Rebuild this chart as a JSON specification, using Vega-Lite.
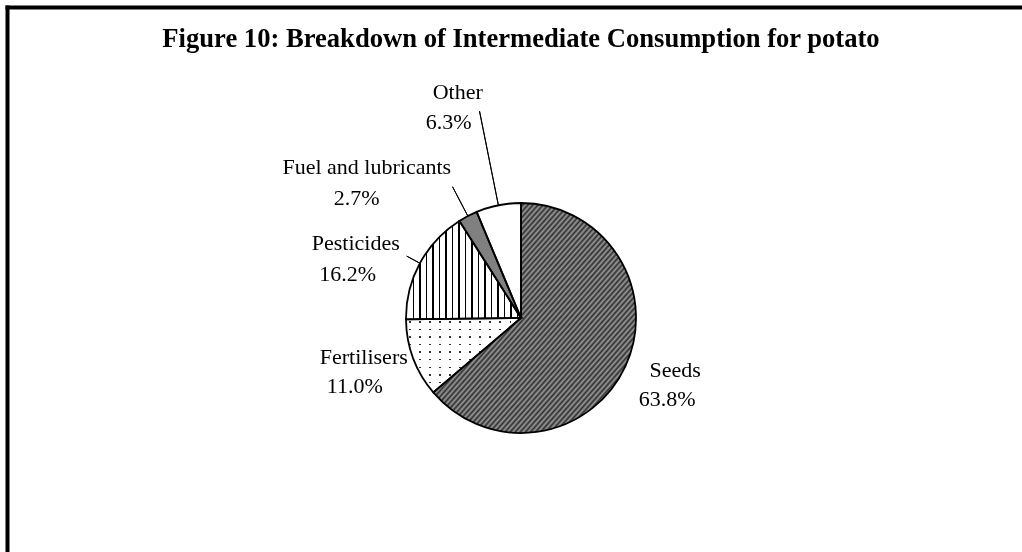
{
"$schema": "https://vega.github.io/schema/vega-lite/v6.json",
"width": 1028, "height": 622,
"autosize": {"type": "none"},
"padding": {"left": 7, "top": 7, "right": -13, "bottom": -77},
"background": "#ffffff",
"config": {"view": {"stroke": null}},
"title": {"text": "Figure 10: Breakdown of Intermediate Consumption for potato", "font": "Liberation Serif", "fontSize": 26.6, "fontWeight": "bold", "color": "#000000", "anchor": "middle", "frame": "group", "orient": "top", "offset": -69, "baseline": "alphabetic"},
"data": {"values": [
 {"category": "Seeds", "share": 0.638, "rank": 1},
 {"category": "Fertilisers", "share": 0.110, "rank": 2},
 {"category": "Pesticides", "share": 0.162, "rank": 3},
 {"category": "Fuel and lubricants", "share": 0.027, "rank": 4},
 {"category": "Other", "share": 0.063, "rank": 5}
]},
"layer": [
 {"mark": {"type": "point", "opacity": 0},
  "encoding": {
   "x": {"field": "share", "type": "quantitative", "axis": {"orient": "top", "domain": true, "domainColor": "#000000", "domainWidth": 4, "domainCap": "square", "ticks": false, "labels": false, "grid": false, "title": null}},
   "y": {"field": "rank", "type": "quantitative", "axis": {"orient": "left", "domain": true, "domainColor": "#000000", "domainWidth": 4, "domainCap": "square", "ticks": false, "labels": false, "grid": false, "title": null}}
  }},
 {"encoding": {
   "theta": {"field": "share", "type": "quantitative", "stack": true},
   "order": {"field": "rank", "type": "quantitative"}
  },
  "layer": [
 {"mark": {"type": "arc", "radius": 115, "strokeWidth": 0},
  "encoding": {"fill": {"condition": {"test": "datum.category === 'Fuel and lubricants'", "value": "#808080"}, "value": "#ffffff"}}},
 {"mark": {"type": "arc", "radius": 115, "strokeWidth": 0,
   "fill": {"gradient": "linear", "x1": 0, "y1": 0, "x2": 1, "y2": 1, "stops": [
{"offset":0,"color":"#2e2e2e"},{"offset":0.00625,"color":"#9a9a9a"},{"offset":0.0125,"color":"#2e2e2e"},{"offset":0.01875,"color":"#9a9a9a"},{"offset":0.025,"color":"#2e2e2e"},{"offset":0.03125,"color":"#9a9a9a"},{"offset":0.0375,"color":"#2e2e2e"},{"offset":0.04375,"color":"#9a9a9a"},{"offset":0.05,"color":"#2e2e2e"},{"offset":0.05625,"color":"#9a9a9a"},{"offset":0.0625,"color":"#2e2e2e"},{"offset":0.06875,"color":"#9a9a9a"},{"offset":0.075,"color":"#2e2e2e"},{"offset":0.08125,"color":"#9a9a9a"},{"offset":0.0875,"color":"#2e2e2e"},{"offset":0.09375,"color":"#9a9a9a"},
{"offset":0.1,"color":"#2e2e2e"},{"offset":0.10625,"color":"#9a9a9a"},{"offset":0.1125,"color":"#2e2e2e"},{"offset":0.11875,"color":"#9a9a9a"},{"offset":0.125,"color":"#2e2e2e"},{"offset":0.13125,"color":"#9a9a9a"},{"offset":0.1375,"color":"#2e2e2e"},{"offset":0.14375,"color":"#9a9a9a"},{"offset":0.15,"color":"#2e2e2e"},{"offset":0.15625,"color":"#9a9a9a"},{"offset":0.1625,"color":"#2e2e2e"},{"offset":0.16875,"color":"#9a9a9a"},{"offset":0.175,"color":"#2e2e2e"},{"offset":0.18125,"color":"#9a9a9a"},{"offset":0.1875,"color":"#2e2e2e"},{"offset":0.19375,"color":"#9a9a9a"},
{"offset":0.2,"color":"#2e2e2e"},{"offset":0.20625,"color":"#9a9a9a"},{"offset":0.2125,"color":"#2e2e2e"},{"offset":0.21875,"color":"#9a9a9a"},{"offset":0.225,"color":"#2e2e2e"},{"offset":0.23125,"color":"#9a9a9a"},{"offset":0.2375,"color":"#2e2e2e"},{"offset":0.24375,"color":"#9a9a9a"},{"offset":0.25,"color":"#2e2e2e"},{"offset":0.25625,"color":"#9a9a9a"},{"offset":0.2625,"color":"#2e2e2e"},{"offset":0.26875,"color":"#9a9a9a"},{"offset":0.275,"color":"#2e2e2e"},{"offset":0.28125,"color":"#9a9a9a"},{"offset":0.2875,"color":"#2e2e2e"},{"offset":0.29375,"color":"#9a9a9a"},
{"offset":0.3,"color":"#2e2e2e"},{"offset":0.30625,"color":"#9a9a9a"},{"offset":0.3125,"color":"#2e2e2e"},{"offset":0.31875,"color":"#9a9a9a"},{"offset":0.325,"color":"#2e2e2e"},{"offset":0.33125,"color":"#9a9a9a"},{"offset":0.3375,"color":"#2e2e2e"},{"offset":0.34375,"color":"#9a9a9a"},{"offset":0.35,"color":"#2e2e2e"},{"offset":0.35625,"color":"#9a9a9a"},{"offset":0.3625,"color":"#2e2e2e"},{"offset":0.36875,"color":"#9a9a9a"},{"offset":0.375,"color":"#2e2e2e"},{"offset":0.38125,"color":"#9a9a9a"},{"offset":0.3875,"color":"#2e2e2e"},{"offset":0.39375,"color":"#9a9a9a"},
{"offset":0.4,"color":"#2e2e2e"},{"offset":0.40625,"color":"#9a9a9a"},{"offset":0.4125,"color":"#2e2e2e"},{"offset":0.41875,"color":"#9a9a9a"},{"offset":0.425,"color":"#2e2e2e"},{"offset":0.43125,"color":"#9a9a9a"},{"offset":0.4375,"color":"#2e2e2e"},{"offset":0.44375,"color":"#9a9a9a"},{"offset":0.45,"color":"#2e2e2e"},{"offset":0.45625,"color":"#9a9a9a"},{"offset":0.4625,"color":"#2e2e2e"},{"offset":0.46875,"color":"#9a9a9a"},{"offset":0.475,"color":"#2e2e2e"},{"offset":0.48125,"color":"#9a9a9a"},{"offset":0.4875,"color":"#2e2e2e"},{"offset":0.49375,"color":"#9a9a9a"},
{"offset":0.5,"color":"#2e2e2e"},{"offset":0.50625,"color":"#9a9a9a"},{"offset":0.5125,"color":"#2e2e2e"},{"offset":0.51875,"color":"#9a9a9a"},{"offset":0.525,"color":"#2e2e2e"},{"offset":0.53125,"color":"#9a9a9a"},{"offset":0.5375,"color":"#2e2e2e"},{"offset":0.54375,"color":"#9a9a9a"},{"offset":0.55,"color":"#2e2e2e"},{"offset":0.55625,"color":"#9a9a9a"},{"offset":0.5625,"color":"#2e2e2e"},{"offset":0.56875,"color":"#9a9a9a"},{"offset":0.575,"color":"#2e2e2e"},{"offset":0.58125,"color":"#9a9a9a"},{"offset":0.5875,"color":"#2e2e2e"},{"offset":0.59375,"color":"#9a9a9a"},
{"offset":0.6,"color":"#2e2e2e"},{"offset":0.60625,"color":"#9a9a9a"},{"offset":0.6125,"color":"#2e2e2e"},{"offset":0.61875,"color":"#9a9a9a"},{"offset":0.625,"color":"#2e2e2e"},{"offset":0.63125,"color":"#9a9a9a"},{"offset":0.6375,"color":"#2e2e2e"},{"offset":0.64375,"color":"#9a9a9a"},{"offset":0.65,"color":"#2e2e2e"},{"offset":0.65625,"color":"#9a9a9a"},{"offset":0.6625,"color":"#2e2e2e"},{"offset":0.66875,"color":"#9a9a9a"},{"offset":0.675,"color":"#2e2e2e"},{"offset":0.68125,"color":"#9a9a9a"},{"offset":0.6875,"color":"#2e2e2e"},{"offset":0.69375,"color":"#9a9a9a"},
{"offset":0.7,"color":"#2e2e2e"},{"offset":0.70625,"color":"#9a9a9a"},{"offset":0.7125,"color":"#2e2e2e"},{"offset":0.71875,"color":"#9a9a9a"},{"offset":0.725,"color":"#2e2e2e"},{"offset":0.73125,"color":"#9a9a9a"},{"offset":0.7375,"color":"#2e2e2e"},{"offset":0.74375,"color":"#9a9a9a"},{"offset":0.75,"color":"#2e2e2e"},{"offset":0.75625,"color":"#9a9a9a"},{"offset":0.7625,"color":"#2e2e2e"},{"offset":0.76875,"color":"#9a9a9a"},{"offset":0.775,"color":"#2e2e2e"},{"offset":0.78125,"color":"#9a9a9a"},{"offset":0.7875,"color":"#2e2e2e"},{"offset":0.79375,"color":"#9a9a9a"},
{"offset":0.8,"color":"#2e2e2e"},{"offset":0.80625,"color":"#9a9a9a"},{"offset":0.8125,"color":"#2e2e2e"},{"offset":0.81875,"color":"#9a9a9a"},{"offset":0.825,"color":"#2e2e2e"},{"offset":0.83125,"color":"#9a9a9a"},{"offset":0.8375,"color":"#2e2e2e"},{"offset":0.84375,"color":"#9a9a9a"},{"offset":0.85,"color":"#2e2e2e"},{"offset":0.85625,"color":"#9a9a9a"},{"offset":0.8625,"color":"#2e2e2e"},{"offset":0.86875,"color":"#9a9a9a"},{"offset":0.875,"color":"#2e2e2e"},{"offset":0.88125,"color":"#9a9a9a"},{"offset":0.8875,"color":"#2e2e2e"},{"offset":0.89375,"color":"#9a9a9a"},
{"offset":0.9,"color":"#2e2e2e"},{"offset":0.90625,"color":"#9a9a9a"},{"offset":0.9125,"color":"#2e2e2e"},{"offset":0.91875,"color":"#9a9a9a"},{"offset":0.925,"color":"#2e2e2e"},{"offset":0.93125,"color":"#9a9a9a"},{"offset":0.9375,"color":"#2e2e2e"},{"offset":0.94375,"color":"#9a9a9a"},{"offset":0.95,"color":"#2e2e2e"},{"offset":0.95625,"color":"#9a9a9a"},{"offset":0.9625,"color":"#2e2e2e"},{"offset":0.96875,"color":"#9a9a9a"},{"offset":0.975,"color":"#2e2e2e"},{"offset":0.98125,"color":"#9a9a9a"},{"offset":0.9875,"color":"#2e2e2e"},{"offset":0.99375,"color":"#9a9a9a"},{"offset":1,"color":"#2e2e2e"}
   ]}},
  "encoding": {"fillOpacity": {"condition": {"test": "datum.category === 'Seeds'", "value": 1}, "value": 0}}},
 {"mark": {"type": "arc", "radius": 115, "strokeWidth": 0,
   "fill": {"gradient": "linear", "x1": 0, "y1": 0, "x2": 1, "y2": 0, "stops": [
{"offset":0.030,"color":"#ffffff"},{"offset":0.030,"color":"#333333"},{"offset":0.043,"color":"#333333"},{"offset":0.043,"color":"#ffffff"},
{"offset":0.117,"color":"#ffffff"},{"offset":0.117,"color":"#333333"},{"offset":0.130,"color":"#333333"},{"offset":0.130,"color":"#ffffff"},
{"offset":0.204,"color":"#ffffff"},{"offset":0.204,"color":"#333333"},{"offset":0.217,"color":"#333333"},{"offset":0.217,"color":"#ffffff"},
{"offset":0.291,"color":"#ffffff"},{"offset":0.291,"color":"#333333"},{"offset":0.304,"color":"#333333"},{"offset":0.304,"color":"#ffffff"},
{"offset":0.378,"color":"#ffffff"},{"offset":0.378,"color":"#333333"},{"offset":0.391,"color":"#333333"},{"offset":0.391,"color":"#ffffff"},
{"offset":0.465,"color":"#ffffff"},{"offset":0.465,"color":"#333333"},{"offset":0.478,"color":"#333333"},{"offset":0.478,"color":"#ffffff"},
{"offset":0.552,"color":"#ffffff"},{"offset":0.552,"color":"#333333"},{"offset":0.565,"color":"#333333"},{"offset":0.565,"color":"#ffffff"},
{"offset":0.639,"color":"#ffffff"},{"offset":0.639,"color":"#333333"},{"offset":0.652,"color":"#333333"},{"offset":0.652,"color":"#ffffff"},
{"offset":0.726,"color":"#ffffff"},{"offset":0.726,"color":"#333333"},{"offset":0.739,"color":"#333333"},{"offset":0.739,"color":"#ffffff"},
{"offset":0.813,"color":"#ffffff"},{"offset":0.813,"color":"#333333"},{"offset":0.826,"color":"#333333"},{"offset":0.826,"color":"#ffffff"},
{"offset":0.900,"color":"#ffffff"},{"offset":0.900,"color":"#333333"},{"offset":0.913,"color":"#333333"},{"offset":0.913,"color":"#ffffff"},
{"offset":0.985,"color":"#ffffff"},{"offset":0.985,"color":"#333333"},{"offset":0.998,"color":"#333333"},{"offset":0.998,"color":"#ffffff"}
   ]}},
  "encoding": {"fillOpacity": {"condition": {"test": "datum.category === 'Fertilisers'", "value": 1}, "value": 0}}},
 {"mark": {"type": "arc", "radius": 115, "strokeWidth": 0, "blend": "lighten",
   "fill": {"gradient": "linear", "x1": 0, "y1": 0, "x2": 0, "y2": 1, "stops": [
{"offset":0.040,"color":"#ffffff"},{"offset":0.040,"color":"#333333"},{"offset":0.061,"color":"#333333"},{"offset":0.061,"color":"#ffffff"},
{"offset":0.142,"color":"#ffffff"},{"offset":0.142,"color":"#333333"},{"offset":0.163,"color":"#333333"},{"offset":0.163,"color":"#ffffff"},
{"offset":0.244,"color":"#ffffff"},{"offset":0.244,"color":"#333333"},{"offset":0.265,"color":"#333333"},{"offset":0.265,"color":"#ffffff"},
{"offset":0.346,"color":"#ffffff"},{"offset":0.346,"color":"#333333"},{"offset":0.367,"color":"#333333"},{"offset":0.367,"color":"#ffffff"},
{"offset":0.448,"color":"#ffffff"},{"offset":0.448,"color":"#333333"},{"offset":0.469,"color":"#333333"},{"offset":0.469,"color":"#ffffff"},
{"offset":0.550,"color":"#ffffff"},{"offset":0.550,"color":"#333333"},{"offset":0.571,"color":"#333333"},{"offset":0.571,"color":"#ffffff"},
{"offset":0.652,"color":"#ffffff"},{"offset":0.652,"color":"#333333"},{"offset":0.673,"color":"#333333"},{"offset":0.673,"color":"#ffffff"},
{"offset":0.754,"color":"#ffffff"},{"offset":0.754,"color":"#333333"},{"offset":0.775,"color":"#333333"},{"offset":0.775,"color":"#ffffff"},
{"offset":0.856,"color":"#ffffff"},{"offset":0.856,"color":"#333333"},{"offset":0.877,"color":"#333333"},{"offset":0.877,"color":"#ffffff"},
{"offset":0.958,"color":"#ffffff"},{"offset":0.958,"color":"#333333"},{"offset":0.979,"color":"#333333"},{"offset":0.979,"color":"#ffffff"}
   ]}},
  "encoding": {"fillOpacity": {"condition": {"test": "datum.category === 'Fertilisers'", "value": 1}, "value": 0}}},
 {"mark": {"type": "arc", "radius": 115, "strokeWidth": 0,
   "fill": {"gradient": "linear", "x1": 0, "y1": 0, "x2": 1, "y2": 0, "stops": [
{"offset":0.060,"color":"#ffffff"},{"offset":0.060,"color":"#000000"},{"offset":0.071,"color":"#000000"},{"offset":0.071,"color":"#ffffff"},
{"offset":0.117,"color":"#ffffff"},{"offset":0.117,"color":"#000000"},{"offset":0.128,"color":"#000000"},{"offset":0.128,"color":"#ffffff"},
{"offset":0.173,"color":"#ffffff"},{"offset":0.173,"color":"#000000"},{"offset":0.184,"color":"#000000"},{"offset":0.184,"color":"#ffffff"},
{"offset":0.230,"color":"#ffffff"},{"offset":0.230,"color":"#000000"},{"offset":0.241,"color":"#000000"},{"offset":0.241,"color":"#ffffff"},
{"offset":0.286,"color":"#ffffff"},{"offset":0.286,"color":"#000000"},{"offset":0.297,"color":"#000000"},{"offset":0.297,"color":"#ffffff"},
{"offset":0.343,"color":"#ffffff"},{"offset":0.343,"color":"#000000"},{"offset":0.354,"color":"#000000"},{"offset":0.354,"color":"#ffffff"},
{"offset":0.399,"color":"#ffffff"},{"offset":0.399,"color":"#000000"},{"offset":0.410,"color":"#000000"},{"offset":0.410,"color":"#ffffff"},
{"offset":0.456,"color":"#ffffff"},{"offset":0.456,"color":"#000000"},{"offset":0.467,"color":"#000000"},{"offset":0.467,"color":"#ffffff"},
{"offset":0.512,"color":"#ffffff"},{"offset":0.512,"color":"#000000"},{"offset":0.523,"color":"#000000"},{"offset":0.523,"color":"#ffffff"},
{"offset":0.569,"color":"#ffffff"},{"offset":0.569,"color":"#000000"},{"offset":0.580,"color":"#000000"},{"offset":0.580,"color":"#ffffff"},
{"offset":0.625,"color":"#ffffff"},{"offset":0.625,"color":"#000000"},{"offset":0.636,"color":"#000000"},{"offset":0.636,"color":"#ffffff"},
{"offset":0.682,"color":"#ffffff"},{"offset":0.682,"color":"#000000"},{"offset":0.693,"color":"#000000"},{"offset":0.693,"color":"#ffffff"},
{"offset":0.738,"color":"#ffffff"},{"offset":0.738,"color":"#000000"},{"offset":0.749,"color":"#000000"},{"offset":0.749,"color":"#ffffff"},
{"offset":0.795,"color":"#ffffff"},{"offset":0.795,"color":"#000000"},{"offset":0.806,"color":"#000000"},{"offset":0.806,"color":"#ffffff"},
{"offset":0.851,"color":"#ffffff"},{"offset":0.851,"color":"#000000"},{"offset":0.862,"color":"#000000"},{"offset":0.862,"color":"#ffffff"},
{"offset":0.908,"color":"#ffffff"},{"offset":0.908,"color":"#000000"},{"offset":0.919,"color":"#000000"},{"offset":0.919,"color":"#ffffff"},
{"offset":0.964,"color":"#ffffff"},{"offset":0.964,"color":"#000000"},{"offset":0.975,"color":"#000000"},{"offset":0.975,"color":"#ffffff"}
   ]}},
  "encoding": {"fillOpacity": {"condition": {"test": "datum.category === 'Pesticides'", "value": 1}, "value": 0}}},
 {"mark": {"type": "arc", "radius": 115, "fillOpacity": 0, "stroke": "#000000", "strokeWidth": 1.8}},
 {"mark": {"type": "arc", "radius": 211, "radius2": 115, "padAngle": 3, "fillOpacity": 0, "stroke": "#000000", "strokeWidth": 1},
  "encoding": {"strokeOpacity": {"condition": {"test": "datum.category === 'Other'", "value": 1}, "value": 0}}},
 {"mark": {"type": "arc", "radius": 148, "radius2": 115, "padAngle": 3, "fillOpacity": 0, "stroke": "#000000", "strokeWidth": 1},
  "encoding": {"strokeOpacity": {"condition": {"test": "datum.category === 'Fuel and lubricants'", "value": 1}, "value": 0}}},
 {"mark": {"type": "arc", "radius": 130, "radius2": 115, "padAngle": 3, "fillOpacity": 0, "stroke": "#000000", "strokeWidth": 1},
  "encoding": {"strokeOpacity": {"condition": {"test": "datum.category === 'Pesticides'", "value": 1}, "value": 0}}},
 {"mark": {"type": "text", "radius": 160, "dx": 9, "dy": -8, "font": "Liberation Serif", "fontSize": 22, "align": "center", "baseline": "alphabetic", "color": "#000000"},
  "encoding": {"text": {"condition": {"test": "datum.category === 'Seeds'", "field": "category", "type": "nominal"}, "value": ""}}},
 {"mark": {"type": "text", "radius": 160, "dx": 1, "dy": 21, "font": "Liberation Serif", "fontSize": 22, "align": "center", "baseline": "alphabetic", "color": "#000000"},
  "encoding": {"text": {"condition": {"test": "datum.category === 'Seeds'", "field": "share", "type": "quantitative", "format": ".1%"}, "value": ""}}},
 {"mark": {"type": "text", "radius": 170, "dx": 2, "dy": -14, "font": "Liberation Serif", "fontSize": 22, "align": "center", "baseline": "alphabetic", "color": "#000000"},
  "encoding": {"text": {"condition": {"test": "datum.category === 'Fertilisers'", "field": "category", "type": "nominal"}, "value": ""}}},
 {"mark": {"type": "text", "radius": 170, "dx": -7, "dy": 15, "font": "Liberation Serif", "fontSize": 22, "align": "center", "baseline": "alphabetic", "color": "#000000"},
  "encoding": {"text": {"condition": {"test": "datum.category === 'Fertilisers'", "field": "share", "type": "quantitative", "format": ".1%"}, "value": ""}}},
 {"mark": {"type": "text", "radius": 180, "dx": -7, "dy": 18, "font": "Liberation Serif", "fontSize": 22, "align": "center", "baseline": "alphabetic", "color": "#000000"},
  "encoding": {"text": {"condition": {"test": "datum.category === 'Pesticides'", "field": "category", "type": "nominal"}, "value": ""}}},
 {"mark": {"type": "text", "radius": 180, "dx": -15, "dy": 49, "font": "Liberation Serif", "fontSize": 22, "align": "center", "baseline": "alphabetic", "color": "#000000"},
  "encoding": {"text": {"condition": {"test": "datum.category === 'Pesticides'", "field": "share", "type": "quantitative", "format": ".1%"}, "value": ""}}},
 {"mark": {"type": "text", "radius": 180, "dx": -71, "dy": 16, "font": "Liberation Serif", "fontSize": 22, "align": "center", "baseline": "alphabetic", "color": "#000000"},
  "encoding": {"text": {"condition": {"test": "datum.category === 'Fuel and lubricants'", "field": "category", "type": "nominal"}, "value": ""}}},
 {"mark": {"type": "text", "radius": 180, "dx": -81, "dy": 47, "font": "Liberation Serif", "fontSize": 22, "align": "center", "baseline": "alphabetic", "color": "#000000"},
  "encoding": {"text": {"condition": {"test": "datum.category === 'Fuel and lubricants'", "field": "share", "type": "quantitative", "format": ".1%"}, "value": ""}}},
 {"mark": {"type": "text", "radius": 215, "dx": -21, "dy": -8, "font": "Liberation Serif", "fontSize": 22, "align": "center", "baseline": "alphabetic", "color": "#000000"},
  "encoding": {"text": {"condition": {"test": "datum.category === 'Other'", "field": "category", "type": "nominal"}, "value": ""}}},
 {"mark": {"type": "text", "radius": 215, "dx": -30, "dy": 22, "font": "Liberation Serif", "fontSize": 22, "align": "center", "baseline": "alphabetic", "color": "#000000"},
  "encoding": {"text": {"condition": {"test": "datum.category === 'Other'", "field": "share", "type": "quantitative", "format": ".1%"}, "value": ""}}}
  ]}
]
}
